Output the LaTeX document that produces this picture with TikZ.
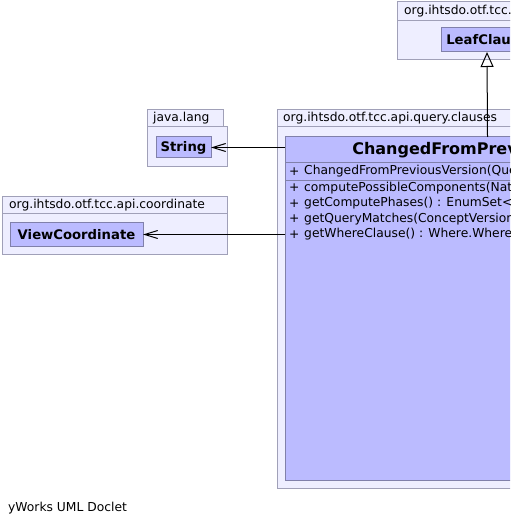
\documentclass[tikz,border=0pt]{standalone}
\usepackage{fontspec}
\setmainfont{DejaVu Sans}
\usetikzlibrary{arrows.meta}
\definecolor{pkgfill}{RGB}{238,238,255}
\definecolor{pkgline}{RGB}{160,160,184}
\definecolor{clsfill}{RGB}{187,187,255}
\definecolor{clsline}{RGB}{128,128,170}
\begin{document}
\begin{tikzpicture}[x=1pt,y=-1pt,
  box/.style={anchor=north west,inner sep=0pt,outer sep=0pt,line width=1pt},
  pkg/.style={box,draw=pkgline,fill=pkgfill},
  cls/.style={box,draw=clsline,fill=clsfill},
  plain/.style={anchor=west,inner sep=0pt,font=\fontsize{12.3}{14}\selectfont},
  clsname/.style={inner sep=0pt,font=\fontsize{13.2}{15}\selectfont\bfseries},
  dep/.style={line width=1pt,-{Straight Barb[length=13pt,width=8pt,line width=1pt]}},
  inherit/.style={line width=1pt,-{Triangle[open,length=15pt,width=13pt,line width=1pt]}}]
\useasboundingbox (0,0) rectangle (510,526);
\clip (0,0) rectangle (510,526);

% package org.ihtsdo.otf.tcc.api.query (top)
\node[pkg,minimum width=200pt,minimum height=19pt] (apitab) at (397,2) {};
\node[pkg,minimum width=200pt,minimum height=39pt] (apibody) at (397,21) {};
\node[plain] (apilabel) at (404,11.5) {org.ihtsdo.otf.tcc.api.query};
\node[cls,minimum width=92pt,minimum height=24pt] (leaf) at (441,28) {};
\node[clsname] (leafname) at (leaf.center) {LeafClause};

% package java.lang
\node[pkg,minimum width=76pt,minimum height=17pt] (jltab) at (147,110) {};
\node[pkg,minimum width=80pt,minimum height=40pt] (jlbody) at (147,127) {};
\node[plain] (jllabel) at (153,118.5) {java.lang};
\node[cls,minimum width=55pt,minimum height=21pt] (str) at (156,137) {};
\node[clsname] (strname) at (str.center) {String};

% package org.ihtsdo.otf.tcc.api.coordinate
\node[pkg,minimum width=225pt,minimum height=17pt] (cotab) at (2,197) {};
\node[pkg,minimum width=225pt,minimum height=40pt] (cobody) at (2,214) {};
\node[plain] (colabel) at (9,205.5) {org.ihtsdo.otf.tcc.api.coordinate};
\node[cls,minimum width=133pt,minimum height=23pt] (vc) at (10,223) {};
\node[clsname] (vcname) at (vc.center) {ViewCoordinate};

% package org.ihtsdo.otf.tcc.api.query.clauses
\node[pkg,minimum width=421pt,minimum height=17pt] (qctab) at (277,110) {};
\node[pkg,minimum width=421pt,minimum height=361pt] (qcbody) at (277,127) {};
\node[plain] (qclabel) at (283,118.5) {org.ihtsdo.otf.tcc.api.query.clauses};

% class ChangedFromPreviousVersion
\node[cls,minimum width=405pt,minimum height=343pt] (cfpv) at (285,137) {};
\node[inner sep=0pt,font=\fontsize{16}{18}\selectfont\bfseries] (cfpvname) at (487.5,150) {ChangedFromPreviousVersion};
\draw[clsline,line width=1pt] (cfpv.west |- 0,163) -- (cfpv.east |- 0,163);
\draw[clsline,line width=1pt] (cfpv.west |- 0,181) -- (cfpv.east |- 0,181);

\foreach \y/\txt [count=\i] in {
  171.5/{ChangedFromPreviousVersion(Query enclosingQuery, ViewCoordinate previousViewCoordinate)},
  188/{computePossibleComponents(NativeIdSetBI incomingPossibleComponents) : NativeIdSetBI},
  203.5/{getComputePhases() : EnumSet<ClauseComputeType>},
  219/{getQueryMatches(ConceptVersionBI conceptVersion) : void},
  234.5/{getWhereClause() : Where.WhereClause}} {
  \node[plain] (vis\i) at (289,\y) {+};
  \node[plain] (mem\i) at (304,\y) {\txt};
}

% relations
\draw[inherit] (cfpv.north) -- (leaf.south);
\draw[dep] (str.east -| cfpv.west) -- (str.east);
\draw[dep] (vc.east -| cfpv.west) -- (vc.east);

\node[plain] (footer) at (8,508.5) {yWorks UML Doclet};
\end{tikzpicture}
\end{document}
